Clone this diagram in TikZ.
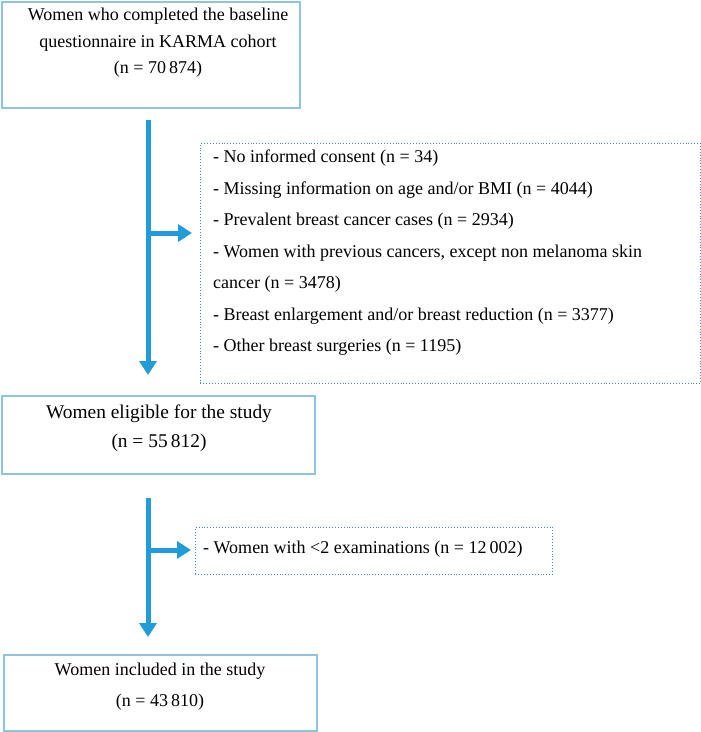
\documentclass[tikz,border=0pt]{standalone}
\usepackage{fontspec}
\setmainfont{Liberation Serif}
\usetikzlibrary{arrows.meta}
\definecolor{boxblue}{HTML}{8FC4DF}
\definecolor{arrowblue}{HTML}{229CD8}
\definecolor{dotblue}{HTML}{3F8DB5}
\tikzset{
  solidbox/.style={draw=boxblue, line width=2pt, rectangle, inner sep=0pt, anchor=north west},
  dotbox/.style={draw=dotblue, line width=0.9pt, dotted, rectangle, inner sep=0pt, anchor=north west},
  txt/.style={inner sep=0pt, align=center, font=\fontsize{18}{26.5}\selectfont},
  listtxt/.style={inner sep=0pt, align=left, anchor=north west, font=\fontsize{18}{31.5}\selectfont},
  flow/.style={draw=arrowblue, line width=5pt, -{Triangle[width=17pt,length=14pt]}},
}
\begin{document}
\begin{tikzpicture}[x=1pt,y=-1pt]
\useasboundingbox (0,0) rectangle (701,732);
% boxes
\node[solidbox, minimum width=298pt, minimum height=106pt] (box1) at (1,1) {};
\node[txt] (t1) at (158,43) {Women who completed the baseline\\questionnaire in KARMA cohort\\(n = 70\,874)};
\node[dotbox, minimum width=500pt, minimum height=240pt] (box2) at (200,143) {};
\node[listtxt] (t2) at (213,150) {- No informed consent (n = 34)\\
- Missing information on age and/or BMI (n = 4044)\\
- Prevalent breast cancer cases (n = 2934)\\
- Women with previous cancers, except non melanoma skin\\
cancer (n = 3478)\\
- Breast enlargement and/or breast reduction (n = 3377)\\
- Other breast surgeries (n = 1195)};
\node[solidbox, minimum width=313pt, minimum height=78pt] (box3) at (1,395) {};
\node[txt, font=\fontsize{19.4}{29}\selectfont] (t3) at (159,428) {Women eligible for the study\\(n = 55\,812)};
\node[dotbox, minimum width=357pt, minimum height=47pt] (box4) at (195,527) {};
\node[txt, anchor=west] (t4) at (203,549) {- Women with <2 examinations (n = 12\,002)};
\node[solidbox, minimum width=313pt, minimum height=76pt] (box5) at (3,654) {};
\node[txt, font=\fontsize{18}{31}\selectfont] (t5) at (160,687) {Women included in the study\\(n = 43\,810)};
% connectors
\coordinate (a1s) at (148,120);
\coordinate (a1e) at (148,375);
\coordinate (b1) at (148,233);
\coordinate (a2s) at (148,498);
\coordinate (a2e) at (148,637);
\coordinate (b2) at (148,550);
\draw[flow] (a1s) -- (a1e);
\draw[flow, shorten >=8pt] (b1) -- (b1 -| box2.west);
\draw[flow] (a2s) -- (a2e);
\draw[flow, shorten >=4pt] (b2) -- (b2 -| box4.west);
\end{tikzpicture}
\end{document}
